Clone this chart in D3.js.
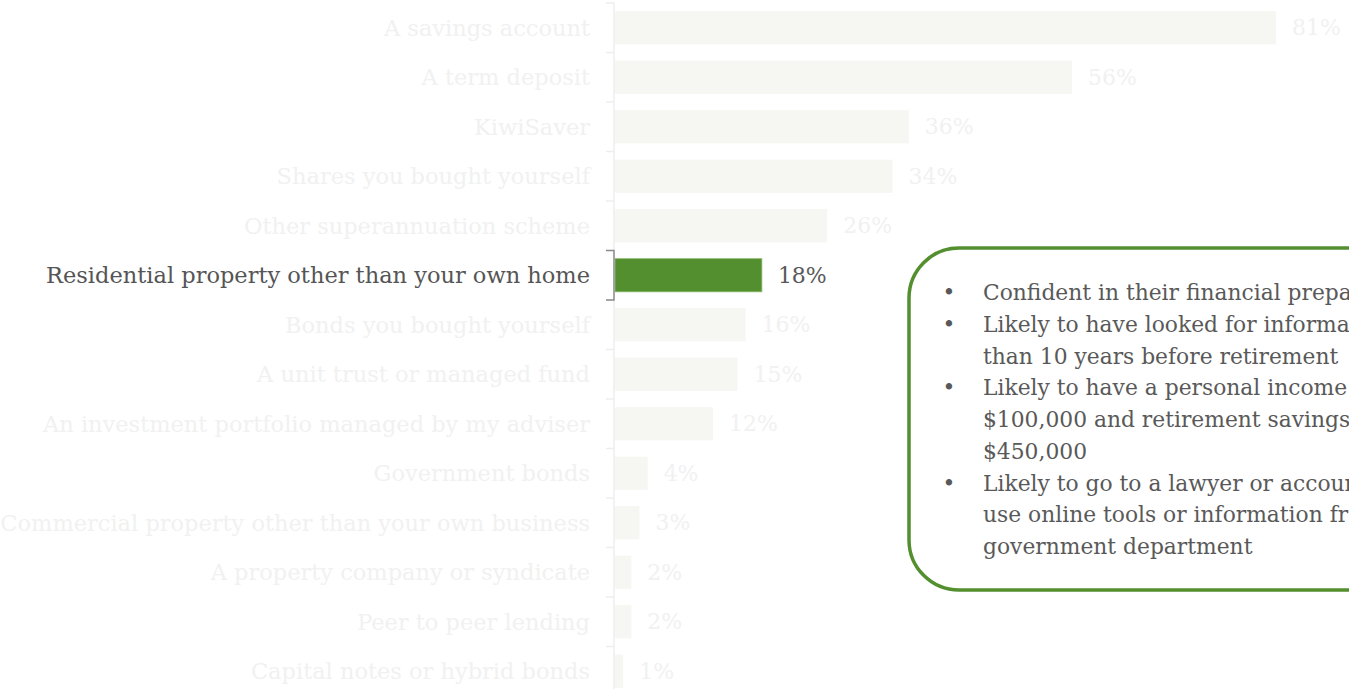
<!DOCTYPE html>
<html>
<head>
<meta charset="utf-8">
<script src="https://cdn.jsdelivr.net/npm/d3@7"></script>
<style>
  html, body { margin: 0; padding: 0; background: #ffffff; overflow: hidden; }
  svg { display: block; }
</style>
</head>
<body>
<svg id="chart" width="1349" height="689"></svg>
<script>
// Investment types held (share of respondents)
const categories = [
  "A savings account",
  "A term deposit",
  "KiwiSaver",
  "Shares you bought yourself",
  "Other superannuation scheme",
  "Residential property other than your own home",
  "Bonds you bought yourself",
  "A unit trust or managed fund",
  "An investment portfolio managed by my adviser",
  "Government bonds",
  "Commercial property other than your own business",
  "A property company or syndicate",
  "Peer to peer lending",
  "Capital notes or hybrid bonds"
];
const values = [81, 56, 36, 34, 26, 18, 16, 15, 12, 4, 3, 2, 2, 1];
const highlighted = "Residential property other than your own home";

// Profile of this group, one array per bullet (pre-wrapped lines)
const calloutBullets = [
  ["Confident in their financial preparation for retirement"],
  ["Likely to have looked for information more", "than 10 years before retirement"],
  ["Likely to have a personal income over", "$100,000 and retirement savings over", "$450,000"],
  ["Likely to go to a lawyer or accountant, or", "use online tools or information from a", "government department"]
];

const FONT = "'DejaVu Serif', serif";
const svg = d3.select("#chart");

const axisX = 614;
const x = d3.scaleLinear().domain([0, 100]).range([axisX + 1, axisX + 1 + 816]);
const y = d3.scaleBand().domain(categories).range([3, 696])
  .paddingInner(0.33).paddingOuter(0.165);

const fadedBar = "#f6f7f2";
const fadedText = "#f1f1f1";
const fadedAxis = "#eeeeee";
const green = "#548f2f";

// Bars
svg.append("g").selectAll("rect")
  .data(categories)
  .join("rect")
  .attr("x", x(0))
  .attr("y", d => y(d))
  .attr("width", (d, i) => x(values[i]) - x(0))
  .attr("height", y.bandwidth())
  .attr("fill", d => d === highlighted ? green : fadedBar)
  .attr("stroke", d => d === highlighted ? "#8cbc6c" : "none")
  .attr("stroke-width", 0.8);

// Category labels
svg.append("g").selectAll("text")
  .data(categories)
  .join("text")
  .attr("x", axisX - 24)
  .attr("y", d => y(d) + y.bandwidth() / 2)
  .attr("dy", "0.35em")
  .attr("text-anchor", "end")
  .attr("font-family", FONT)
  .attr("font-size", 22.5)
  .attr("fill", d => d === highlighted ? "#555555" : fadedText)
  .text(d => d);

// Value labels
svg.append("g").selectAll("text")
  .data(categories)
  .join("text")
  .attr("x", (d, i) => x(values[i]) + 16)
  .attr("y", d => y(d) + y.bandwidth() / 2)
  .attr("dy", "0.35em")
  .attr("font-family", FONT)
  .attr("font-size", 22)
  .attr("fill", d => d === highlighted ? "#595959" : fadedText)
  .text((d, i) => values[i] + "%");

// Category axis: ticks sit on band boundaries
const step = y.step();
const edge = d => y(d) - (step - y.bandwidth()) / 2;
const boundaries = categories.map(edge).concat([edge(categories[categories.length - 1]) + step]);
const axis = svg.append("g").attr("fill", "none");
axis.append("line")
  .attr("x1", axisX).attr("x2", axisX)
  .attr("y1", boundaries[0]).attr("y2", boundaries[boundaries.length - 1])
  .attr("stroke", fadedAxis).attr("stroke-width", 1.5);
axis.selectAll("line.tick")
  .data(boundaries)
  .join("line")
  .attr("class", "tick")
  .attr("x1", axisX - 8).attr("x2", axisX)
  .attr("y1", d => d).attr("y2", d => d)
  .attr("stroke", fadedAxis).attr("stroke-width", 1.5);
// Emphasised bracket around the highlighted category
const hTop = edge(highlighted), hBot = hTop + step;
axis.append("path")
  .attr("d", `M${axisX - 8},${hTop}H${axisX}V${hBot}H${axisX - 8}`)
  .attr("stroke", "#8c8c8c").attr("stroke-width", 1.5);

// Callout box
const box = svg.append("g");
box.append("rect")
  .attr("x", 909).attr("y", 248)
  .attr("width", 620).attr("height", 342)
  .attr("rx", 50).attr("ry", 50)
  .attr("fill", "#ffffff")
  .attr("stroke", green).attr("stroke-width", 3.5);

let line = 0;
const lineH = 31.75, firstBaseline = 300;
calloutBullets.forEach(bullet => {
  box.append("text")
    .attr("x", 949).attr("y", firstBaseline + line * lineH)
    .attr("text-anchor", "middle")
    .attr("font-family", FONT).attr("font-size", 21.8)
    .attr("fill", "#595959")
    .text("\u2022");
  bullet.forEach(t => {
    box.append("text")
      .attr("x", 983).attr("y", firstBaseline + line * lineH)
      .attr("font-family", FONT).attr("font-size", 21.8)
      .attr("fill", "#595959")
      .text(t);
    line++;
  });
});
</script>
</body>
</html>
